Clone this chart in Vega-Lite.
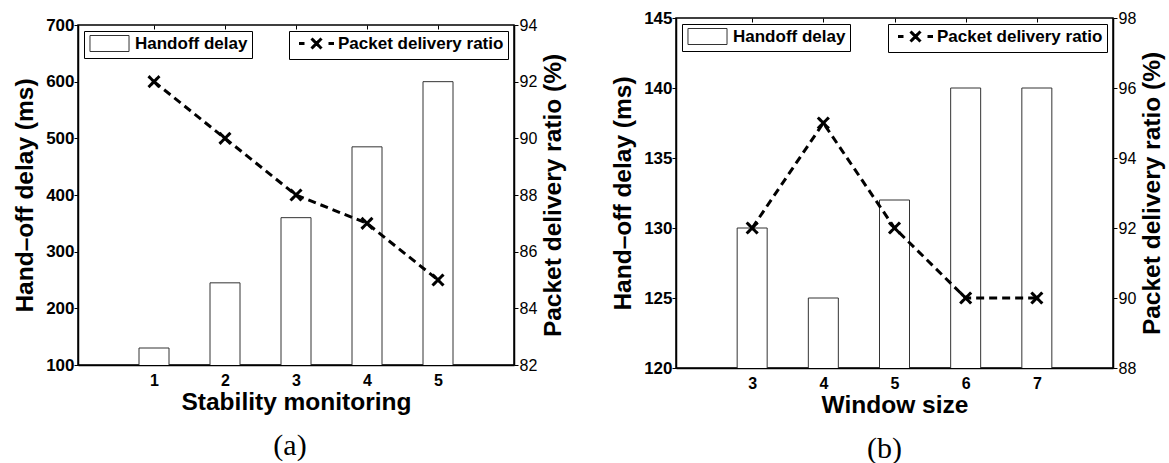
{
  "$schema": "https://vega.github.io/schema/vega-lite/v6.json",
  "background": "white",
  "padding": {"left": 11, "top": 8, "right": 0, "bottom": 0},
  "config": {
    "font": "Liberation Sans",
    "view": {"stroke": null},
    "axis": {"grid": false, "labelFont": "Liberation Sans", "titleFont": "Liberation Sans", "labelColor": "black", "titleColor": "black", "domainColor": "black", "tickColor": "black", "domainWidth": 1.5, "tickWidth": 1, "titleFontSize": 24.5, "titleFontWeight": "bold", "labelFontSize": 16},
    "legend": {"labelFont": "Liberation Sans", "labelFontSize": 17, "labelFontWeight": "bold", "labelColor": "black", "labelLimit": 0, "strokeColor": "black", "fillColor": "white", "padding": 4, "offset": 6},
    "title": {"font": "Liberation Serif", "fontSize": 30, "fontWeight": "normal", "color": "black", "orient": "bottom"}
  },
  "resolve": {"scale": {"fill": "independent", "stroke": "independent"}, "legend": {"fill": "independent", "stroke": "independent"}},
  "spacing": 42,
  "datasets": {
    "a": [
      {"x": 1, "delay": 130, "pdr": 92},
      {"x": 2, "delay": 245, "pdr": 90},
      {"x": 3, "delay": 360, "pdr": 88},
      {"x": 4, "delay": 485, "pdr": 87},
      {"x": 5, "delay": 600, "pdr": 85}
    ],
    "b": [
      {"x": 3, "delay": 130, "pdr": 92},
      {"x": 4, "delay": 125, "pdr": 95},
      {"x": 5, "delay": 132, "pdr": 92},
      {"x": 6, "delay": 140, "pdr": 90},
      {"x": 7, "delay": 140, "pdr": 90}
    ]
  },
  "hconcat": [
    {
      "spacing": -4,
      "resolve": {"scale": {"fill": "independent", "stroke": "independent"}, "legend": {"fill": "independent", "stroke": "independent"}},
      "vconcat": [
        {"width": 436, "height": 1, "data": {"values": []}, "mark": "point", "encoding": {}},
        {
          "width": 436, "height": 340,
          "view": {"stroke": "black", "strokeWidth": 1.5},
          "title": {"text": "(a)", "orient": "bottom", "offset": 17, "dx": -6},
          "data": {"name": "a"},
          "resolve": {"scale": {"y": "independent"}, "axis": {"x": "independent"}},
          "layer": [
            {
              "mark": {"type": "bar", "width": 30, "stroke": "#333", "strokeWidth": 1, "clip": true},
              "encoding": {
                "x": {"field": "x", "type": "quantitative", "scale": {"domain": [0, 6]}, "axis": {"values": [1, 2, 3, 4, 5], "title": "Stability monitoring", "labelFontWeight": "bold", "tickSize": -4, "labelPadding": 11.5, "titlePadding": 2}},
                "y": {"field": "delay", "type": "quantitative", "scale": {"domain": [100, 700], "zero": false}, "axis": {"values": [100, 200, 300, 400, 500, 600, 700], "title": "Hand–off delay (ms)", "labelFontWeight": "bold", "labelFontSize": 17, "tickSize": 4, "labelPadding": 0, "titlePadding": 8}},
                "fill": {"datum": "Handoff delay", "scale": {"range": ["white"]}, "legend": {"orient": "top-left", "title": null, "symbolType": "M-2.44,-1H2.44V1H-2.44Z", "symbolSize": 256, "symbolFillColor": "white", "symbolStrokeColor": "#333", "symbolStrokeWidth": 1, "symbolOffset": 13, "labelOffset": 17}}
              }
            },
            {
              "mark": {"type": "line", "strokeDash": [8, 5], "strokeWidth": 3, "point": {"shape": "M-1,-1L1,1M-1,1L1,-1", "size": 121, "strokeWidth": 3, "filled": false, "opacity": 1, "strokeDash": [1, 0]}},
              "encoding": {
                "x": {"field": "x", "type": "quantitative", "scale": {"domain": [0, 6]}, "axis": {"orient": "top", "values": [1, 2, 3, 4, 5], "labels": false, "title": null, "tickSize": -4, "domain": false}},
                "y": {"field": "pdr", "type": "quantitative", "scale": {"domain": [82, 94], "zero": false}, "axis": {"orient": "right", "values": [82, 84, 86, 88, 90, 92, 94], "title": "Packet delivery ratio (%)", "titleAngle": 270, "titleBaseline": "top", "labelFontWeight": "normal", "tickSize": 4, "labelPadding": 1, "titlePadding": 5}},
                "stroke": {"datum": "Packet delivery ratio", "scale": {"range": ["black"]}, "legend": {"orient": "top-right", "title": null, "symbolType": "M-3.5,0H-2.4M2.4,0H3.5M-1,-1L1,1M-1,1L1,-1", "symbolSize": 100, "symbolStrokeWidth": 3, "symbolStrokeColor": "black", "symbolDash": [1, 0], "symbolOffset": 15, "labelOffset": 13}}
              }
            }
          ]
        }
      ]
    },
    {
      "width": 437, "height": 350,
      "view": {"stroke": "black", "strokeWidth": 1.5},
      "title": {"text": "(b)", "orient": "bottom", "offset": 17, "dx": -10},
      "data": {"name": "b"},
      "resolve": {"scale": {"y": "independent"}, "axis": {"x": "independent"}},
      "layer": [
        {
          "mark": {"type": "bar", "width": 30, "stroke": "#333", "strokeWidth": 1, "clip": true},
          "encoding": {
            "x": {"field": "x", "type": "quantitative", "scale": {"domain": [2, 8]}, "axis": {"values": [3, 4, 5, 6, 7], "title": "Window size", "labelFontWeight": "bold", "tickSize": -4, "labelPadding": 11.5, "titlePadding": 2}},
            "y": {"field": "delay", "type": "quantitative", "scale": {"domain": [120, 145], "zero": false}, "axis": {"values": [120, 125, 130, 135, 140, 145], "title": "Hand–off delay (ms)", "labelFontWeight": "bold", "labelFontSize": 17, "tickSize": 4, "labelPadding": 0, "titlePadding": 8}},
            "fill": {"datum": "Handoff delay", "scale": {"range": ["white"]}, "legend": {"orient": "top-left", "title": null, "symbolType": "M-2.44,-1H2.44V1H-2.44Z", "symbolSize": 256, "symbolFillColor": "white", "symbolStrokeColor": "#333", "symbolStrokeWidth": 1, "symbolOffset": 13, "labelOffset": 17}}
          }
        },
        {
          "mark": {"type": "line", "strokeDash": [8, 5], "strokeWidth": 3, "point": {"shape": "M-1,-1L1,1M-1,1L1,-1", "size": 121, "strokeWidth": 3, "filled": false, "opacity": 1, "strokeDash": [1, 0]}},
          "encoding": {
            "x": {"field": "x", "type": "quantitative", "scale": {"domain": [2, 8]}, "axis": {"orient": "top", "values": [3, 4, 5, 6, 7], "labels": false, "title": null, "tickSize": -4, "domain": false}},
            "y": {"field": "pdr", "type": "quantitative", "scale": {"domain": [88, 98], "zero": false}, "axis": {"orient": "right", "values": [88, 90, 92, 94, 96, 98], "title": "Packet delivery ratio (%)", "titleAngle": 270, "titleBaseline": "top", "labelFontWeight": "normal", "tickSize": 4, "labelPadding": 1, "titlePadding": 5}},
            "stroke": {"datum": "Packet delivery ratio", "scale": {"range": ["black"]}, "legend": {"orient": "top-right", "title": null, "symbolType": "M-3.5,0H-2.4M2.4,0H3.5M-1,-1L1,1M-1,1L1,-1", "symbolSize": 100, "symbolStrokeWidth": 3, "symbolStrokeColor": "black", "symbolDash": [1, 0], "symbolOffset": 15, "labelOffset": 13}}
          }
        }
      ]
    }
  ]
}
